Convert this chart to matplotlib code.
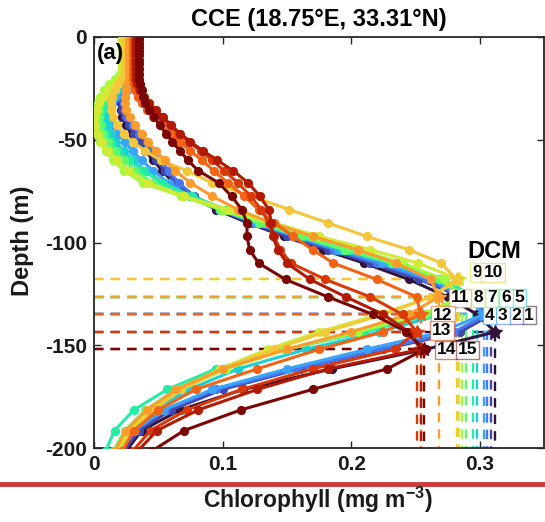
import numpy as np
import matplotlib
matplotlib.use("Agg")
import matplotlib.pyplot as plt
from matplotlib.lines import Line2D

plt.rcParams['font.family'] = ['Liberation Sans', 'DejaVu Sans']
plt.rcParams['font.weight'] = 'bold'
plt.rcParams['mathtext.fontset'] = 'custom'
plt.rcParams['mathtext.bf'] = 'Liberation Sans:bold'
plt.rcParams['mathtext.rm'] = 'Liberation Sans:bold'
plt.rcParams['mathtext.default'] = 'bf'

# ---------------- data ----------------
depth_levels = [1, 3, 5, 7, 9, 11, 13, 15.5, 18, 20.5,
                23, 26, 29, 32, 35.5, 39, 43, 47, 51, 55.5,
                60, 65, 71, 77.5, 84, 90.5, 97, 103.5, 110, 118,
                126.5, 135, 143.5, 152, 161.5, 171.5, 181.5, 191.5, 201.5]

chl_01 = [0.029]*9 + [0.028,
          0.026, 0.024, 0.022, 0.021, 0.021, 0.022, 0.025, 0.029, 0.034, 0.040,
          0.046, 0.053, 0.062, 0.076, 0.095, 0.120, 0.148, 0.178, 0.210, 0.245,
          0.275, 0.298, 0.312, 0.258, 0.185, 0.116, 0.067, 0.037, 0.025]
chl_02 = [0.029]*9 + [0.029,
          0.027, 0.025, 0.023, 0.022, 0.022, 0.024, 0.027, 0.031, 0.036, 0.042,
          0.048, 0.055, 0.064, 0.078, 0.097, 0.122, 0.150, 0.182, 0.215, 0.253,
          0.286, 0.309, 0.285, 0.225, 0.160, 0.100, 0.060, 0.035, 0.023]
chl_03 = [0.030]*9 + [0.029,
          0.028, 0.026, 0.024, 0.023, 0.024, 0.026, 0.030, 0.035, 0.041, 0.047,
          0.052, 0.058, 0.066, 0.078, 0.098, 0.125, 0.155, 0.187, 0.220, 0.258,
          0.288, 0.306, 0.280, 0.222, 0.158, 0.095, 0.055, 0.032, 0.021]
chl_04 = [0.028]*9 + [0.027,
          0.024, 0.020, 0.017, 0.014, 0.013, 0.013, 0.015, 0.019, 0.024, 0.030,
          0.037, 0.046, 0.058, 0.075, 0.098, 0.126, 0.157, 0.190, 0.224, 0.262,
          0.290, 0.303, 0.270, 0.212, 0.150, 0.092, 0.054, 0.031, 0.020]
chl_05 = [0.025]*9 + [0.023,
          0.021, 0.018, 0.015, 0.012, 0.010, 0.009, 0.010, 0.013, 0.017, 0.023,
          0.030, 0.040, 0.054, 0.075, 0.100, 0.130, 0.160, 0.193, 0.230, 0.268,
          0.298, 0.270, 0.222, 0.165, 0.112, 0.074, 0.047, 0.029, 0.019]
chl_06 = [0.024]*9 + [0.021,
          0.018, 0.014, 0.011, 0.008, 0.006, 0.005, 0.006, 0.009, 0.013, 0.019,
          0.027, 0.038, 0.053, 0.076, 0.103, 0.132, 0.163, 0.198, 0.236, 0.272,
          0.295, 0.262, 0.210, 0.150, 0.095, 0.057, 0.031, 0.016, 0.009]
chl_07 = [0.023]*9 + [0.018,
          0.014, 0.010, 0.007, 0.005, 0.004, 0.004, 0.005, 0.007, 0.011, 0.016,
          0.023, 0.032, 0.046, 0.070, 0.098, 0.128, 0.160, 0.195, 0.232, 0.268,
          0.289, 0.258, 0.205, 0.148, 0.100, 0.064, 0.040, 0.024, 0.015]
chl_08 = [0.022]*8 + [0.020, 0.016,
          0.012, 0.008, 0.005, 0.003, 0.001, 0.000, 0.0005, 0.002, 0.005, 0.009,
          0.015, 0.023, 0.038, 0.068, 0.100, 0.135, 0.170, 0.205, 0.240, 0.272,
          0.286, 0.255, 0.205, 0.150, 0.103, 0.068, 0.045, 0.028, 0.018]
chl_09 = [0.022]*9 + [0.020,
          0.016, 0.011, 0.007, 0.004, 0.002, 0.001, 0.001, 0.003, 0.006, 0.011,
          0.018, 0.027, 0.042, 0.070, 0.105, 0.140, 0.175, 0.215, 0.252, 0.284,
          0.262, 0.222, 0.175, 0.135, 0.098, 0.066, 0.044, 0.027, 0.018]
chl_10 = [0.024]*9 + [0.022,
          0.019, 0.016, 0.014, 0.013, 0.013, 0.015, 0.018, 0.023, 0.030, 0.040,
          0.052, 0.072, 0.092, 0.122, 0.152, 0.182, 0.212, 0.245, 0.270, 0.282,
          0.262, 0.225, 0.180, 0.140, 0.100, 0.068, 0.046, 0.030, 0.020]
chl_11 = [0.027]*10 + [
          0.026, 0.025, 0.024, 0.024, 0.025, 0.028, 0.032, 0.037, 0.042, 0.048,
          0.055, 0.063, 0.075, 0.092, 0.112, 0.138, 0.170, 0.205, 0.235, 0.262,
          0.268, 0.245, 0.200, 0.150, 0.100, 0.064, 0.041, 0.025, 0.016]
chl_12 = [0.030]*10 + [
          0.031, 0.032, 0.034, 0.037, 0.041, 0.046, 0.052, 0.060, 0.067, 0.075,
          0.084, 0.093, 0.104, 0.117, 0.128, 0.140, 0.155, 0.170, 0.186, 0.220,
          0.251, 0.254, 0.225, 0.175, 0.127, 0.079, 0.050, 0.031, 0.022]
chl_13 = [0.032]*10 + [
          0.033, 0.035, 0.038, 0.042, 0.047, 0.053, 0.059, 0.066, 0.074, 0.083,
          0.092, 0.101, 0.112, 0.122, 0.130, 0.136, 0.140, 0.145, 0.153, 0.180,
          0.215, 0.240, 0.251, 0.234, 0.170, 0.115, 0.072, 0.044, 0.030]
chl_14 = [0.033]*10 + [
          0.034, 0.036, 0.039, 0.043, 0.048, 0.054, 0.060, 0.067, 0.075, 0.085,
          0.096, 0.108, 0.120, 0.129, 0.136, 0.138, 0.139, 0.143, 0.150, 0.168,
          0.196, 0.225, 0.245, 0.254, 0.182, 0.127, 0.081, 0.049, 0.034]
chl_15 = [0.035]*10 + [
          0.036, 0.037, 0.038, 0.040, 0.043, 0.047, 0.051, 0.056, 0.061, 0.067,
          0.073, 0.081, 0.097, 0.107, 0.115, 0.119, 0.119, 0.121, 0.128, 0.149,
          0.182, 0.217, 0.243, 0.257, 0.228, 0.170, 0.114, 0.070, 0.045]

profiles = [chl_01, chl_02, chl_03, chl_04, chl_05, chl_06, chl_07, chl_08,
            chl_09, chl_10, chl_11, chl_12, chl_13, chl_14, chl_15]
profile_labels = [str(i) for i in range(1, 16)]

xticks = [0, 0.1, 0.2, 0.3]
xtick_labels = ['0', '0.1', '0.2', '0.3']
yticks = [-200, -150, -100, -50, 0]
ytick_labels = ['-200', '-150', '-100', '-50', '0']

# label box placement (layout), in data coords
label_pos = {
    '9': (0.2978, -114.4), '10': (0.3104, -114.4),
    '11': (0.2845, -127.0), '8': (0.2987, -127.0), '7': (0.3093, -127.0),
    '6': (0.3204, -127.0), '5': (0.3306, -127.0),
    '12': (0.2715, -135.3), '4': (0.3075, -135.3), '3': (0.3180, -135.3),
    '2': (0.3281, -135.3), '1': (0.3382, -135.3),
    '13': (0.2706, -142.8),
    '14': (0.2742, -152.3), '15': (0.2903, -152.3),
}

# ---------------- figure ----------------
W, H = 545, 522
fig = plt.figure(figsize=(W/100, H/100), dpi=100)
ax = fig.add_axes([94/W, 1 - 448/H, (544 - 94)/W, (448 - 37)/H])

colors = plt.cm.turbo(np.linspace(0, 1, len(profiles)))
depth = -np.array(depth_levels)

for k, prof in enumerate(profiles):
    c = colors[k]
    prof = np.array(prof)
    i = int(np.argmax(prof))
    xd, yd = prof[i], depth[i]
    ax.plot([0, xd], [yd, yd], ls=(0, (4, 3)), color=c, lw=1.7, zorder=2)
    ax.plot([xd, xd], [yd, -200], ls=(0, (4, 3)), color=c, lw=1.7, zorder=2)

for k, prof in enumerate(profiles):
    c = colors[k]
    ax.plot(prof, depth, '-o', color=c, lw=2.2, ms=5.6, mec=c, mfc=c, zorder=3)

for k, prof in enumerate(profiles):
    c = colors[k]
    prof = np.array(prof)
    i = int(np.argmax(prof))
    ax.plot(prof[i], depth[i], marker='*', color=c, ms=10, mec=c, zorder=4)

for k, lab in enumerate(profile_labels):
    c = colors[k]
    x, y = label_pos[lab]
    ec = (c[0], c[1], c[2], 0.55)
    ax.text(x, y, lab, ha='center', va='center', fontsize=12.5, fontweight='bold',
            color='black', zorder=6,
            bbox=dict(boxstyle='square,pad=0.11', fc='white', ec=ec, lw=1.0))

ax.text(0.3116, -104.5, 'DCM', ha='center', va='center', fontsize=17,
        fontweight='bold', zorder=6)
ax.text(0.007, 0.985, '(a)', transform=ax.transAxes, ha='left', va='top',
        fontsize=16, fontweight='bold', zorder=7)

ax.set_xlim(0, 0.35)
ax.set_ylim(-200, 0)
ax.set_xticks(xticks)
ax.set_xticklabels(xtick_labels)
ax.set_yticks(yticks)
ax.set_yticklabels(ytick_labels)
ax.tick_params(direction='in', length=5, width=1.0, top=True, right=True,
               labelsize=15, colors='#262626', pad=5)
for lab in ax.get_xticklabels() + ax.get_yticklabels():
    lab.set_fontweight('bold')
    lab.set_color('#1a1a1a')
for sp in ax.spines.values():
    sp.set_color('#262626')
    sp.set_linewidth(1.3)

ax.set_title('CCE (18.75°E, 33.31°N)', fontsize=17, fontweight='bold', pad=8)
fig.text(22/W, 1 - 241/H, 'Depth (m)', rotation=90, ha='center', va='center',
         fontsize=17, fontweight='bold', color='#1a1a1a')

fig.add_artist(Line2D([0, 1], [1 - 484/H, 1 - 484/H], transform=fig.transFigure,
                      color='#d0393b', lw=3.5))
fig.text(318/W, 1 - 500/H, 'Chlorophyll (mg m$^{-3}$)', ha='center', va='center',
         fontsize=16.5, fontweight='bold', color='#1a1a1a')

fig.savefig('out.png', dpi=100)
